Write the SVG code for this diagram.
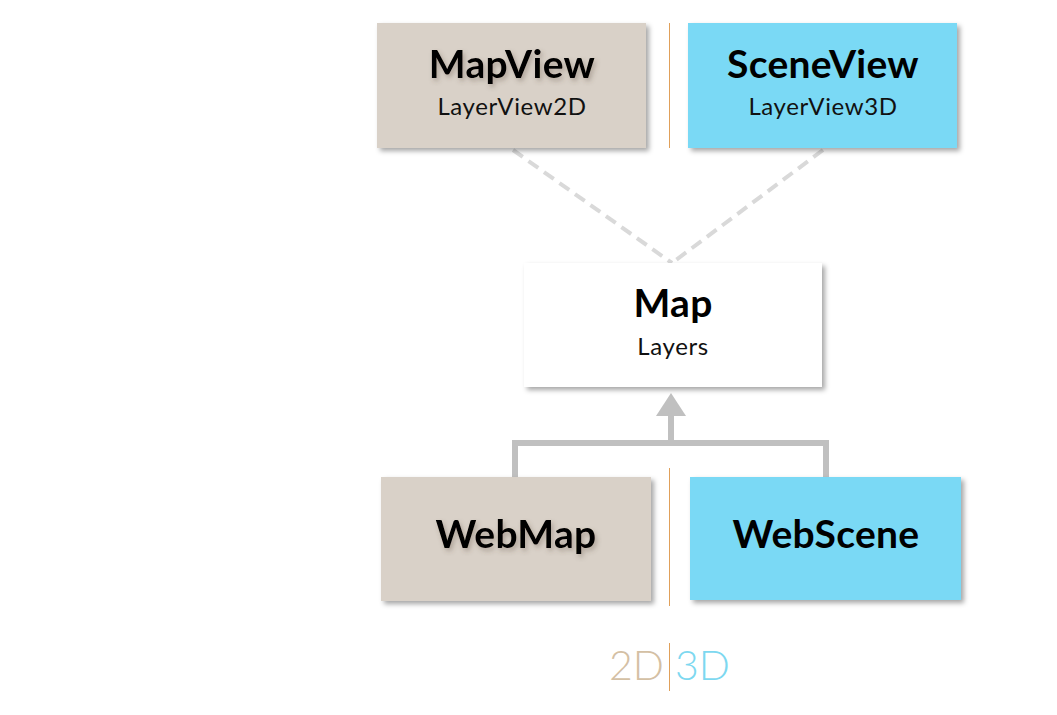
<svg xmlns="http://www.w3.org/2000/svg" width="1057" height="715" viewBox="0 0 1057 715">
<defs>
<filter id="sh" x="-10%" y="-10%" width="125%" height="130%">
<feDropShadow dx="3" dy="3" stdDeviation="2.5" flood-color="#000" flood-opacity="0.35"/>
</filter>
<filter id="tsh" x="-10%" y="-20%" width="130%" height="150%">
<feDropShadow dx="2" dy="3" stdDeviation="2.5" flood-color="#5a4a3a" flood-opacity="0.35"/>
</filter>
<style>
.t{font-family:Lato,"Noto Sans",sans-serif;font-weight:700;font-size:39px;fill:#000;text-anchor:middle;letter-spacing:0.3px}
.s{font-family:Lato,"Noto Sans",sans-serif;font-weight:400;font-size:24px;fill:#111;text-anchor:middle;letter-spacing:0.6px}
.beige{fill:#d9d1c8}
.blue{fill:#7ad9f5}
.div{stroke:#e0a05a;stroke-width:1}
.dash{stroke:#d9d9d9;stroke-width:4;stroke-dasharray:12 7;fill:none}
.conn{stroke:#c0c0c0;stroke-width:6;fill:none}
</style>
</defs>
<rect width="1057" height="715" fill="#fff"/>
<g id="connectors">
<line class="dash" x1="513" y1="150" x2="672" y2="263"/>
<line class="dash" x1="823" y1="150" x2="672" y2="263"/>
<polyline class="conn" points="515,477 515,443 826,443 826,477"/>
<line class="conn" x1="671" y1="443" x2="671" y2="412"/>
<polygon points="671,393 656,416 686,416" fill="#c0c0c0"/>
</g>
<g id="dividers">
<line class="div" x1="669.5" y1="23" x2="669.5" y2="148"/>
<line class="div" x1="669.5" y1="468" x2="669.5" y2="606"/>
<line class="div" x1="669.5" y1="643" x2="669.5" y2="691"/>
</g>
<g id="mapview">
<rect class="beige" x="377" y="23" width="269" height="125" filter="url(#sh)"/>
<text class="t" x="512" y="78" filter="url(#tsh)">MapView</text>
<text class="s" x="512" y="115">LayerView2D</text>
</g>
<g id="sceneview">
<rect class="blue" x="688" y="23" width="269" height="125" filter="url(#sh)"/>
<text class="t" x="823" y="78">SceneView</text>
<text class="s" x="823" y="115">LayerView3D</text>
</g>
<g id="map">
<rect x="524" y="263" width="298" height="124" fill="#fff" filter="url(#sh)"/>
<text class="t" x="673" y="317">Map</text>
<text class="s" x="673" y="355">Layers</text>
</g>
<g id="webmap">
<rect class="beige" x="381" y="477" width="270" height="124" filter="url(#sh)"/>
<text class="t" x="516" y="548" filter="url(#tsh)">WebMap</text>
</g>
<g id="webscene">
<rect class="blue" x="690" y="477" width="271" height="123" filter="url(#sh)"/>
<text class="t" x="826" y="548">WebScene</text>
</g>
<g id="legend">
<text x="664" y="680" font-family="Lato,'Noto Sans',sans-serif" font-weight="300" font-size="41" fill="#d4c0a4" text-anchor="end">2D</text>
<text x="675" y="680" font-family="Lato,'Noto Sans',sans-serif" font-weight="300" font-size="41" fill="#7dd8f0">3D</text>
</g>
</svg>
